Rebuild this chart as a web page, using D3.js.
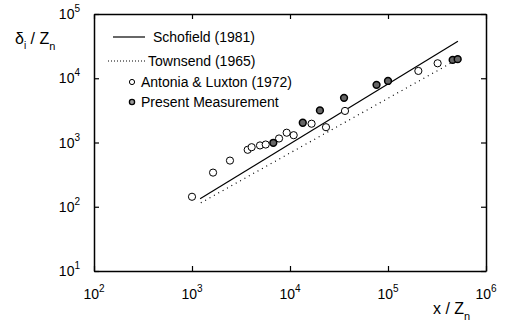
<!DOCTYPE html>
<html>
<head>
<meta charset="utf-8">
<script src="https://cdn.jsdelivr.net/npm/d3@7"></script>
<style>
  body { margin: 0; background: #fff; }
  svg { font-family: "Liberation Sans", Arial, sans-serif; }
</style>
</head>
<body>
<svg id="chart"></svg>
<script>
const width = 507;
const height = 322;

// decade ticks
const xTicks = [1e2, 1e3, 1e4, 1e5, 1e6];
const yTicks = [1e1, 1e2, 1e3, 1e4, 1e5];

// Antonia & Luxton (1972), open circles
const antoniaX = [1000, 1640, 2440, 3700, 4060, 4940, 5650, 7730, 9250, 10900, 16600, 23300, 36400, 204000, 321000];
const antoniaY = [143, 340, 523, 770, 845, 900, 930, 1155, 1420, 1300, 1960, 1730, 3100, 13000, 17100];

// present measurement, grey circles
const presentX = [6760, 13500, 20200, 35600, 76400, 100000, 457000, 514000];
const presentY = [990, 2030, 3160, 4950, 7900, 9080, 19300, 19800];

// correlation lines, end points
const schofieldX = [1210, 517000];
const schofieldY = [133, 37800];
const townsendX = [1230, 517000];
const townsendY = [115, 19800];

const legendItems = ["Schofield (1981)", "Townsend (1965)", "Antonia & Luxton (1972)", "Present Measurement"];

const margin = {top: 14, right: 21, bottom: 51, left: 94};

const svg = d3.select('#chart')
    .attr('width', width)
    .attr('height', height);

const x = d3.scaleLog()
    .domain([1e2, 1e6])
    .range([margin.left, width - margin.right]);

const y = d3.scaleLog()
    .domain([1e1, 1e5])
    .range([height - margin.bottom, margin.top]);

// frame with inward ticks on all four sides
const axes = [
    [d3.axisBottom(x), `translate(0,${height - margin.bottom})`],
    [d3.axisTop(x), `translate(0,${margin.top})`],
    [d3.axisLeft(y), `translate(${margin.left},0)`],
    [d3.axisRight(y), `translate(${width - margin.right},0)`]
];
axes.forEach(([ax, tr]) => {
    const g = svg.append('g')
        .attr('transform', tr)
        .call(ax.tickValues(ax.scale() === x ? xTicks : yTicks).tickSize(-5).tickSizeOuter(0).tickFormat(''));
    g.select('.domain').attr('stroke', '#000').attr('stroke-width', 1.5);
    g.selectAll('.tick line').attr('stroke', '#000').attr('stroke-width', 1.2);
});

// power-of-ten labels
function powLabel(sel) {
    sel.append('tspan').text('10');
    sel.append('tspan')
        .attr('dy', -7)
        .attr('font-size', 10)
        .text(d => Math.round(Math.log10(d)));
}

svg.append('g').selectAll('text')
    .data(xTicks)
    .enter().append('text')
    .attr('x', d => x(d))
    .attr('y', height - margin.bottom + 28)
    .attr('text-anchor', 'middle')
    .attr('font-size', 14)
    .call(powLabel);

svg.append('g').selectAll('text')
    .data(yTicks)
    .enter().append('text')
    .attr('x', margin.left - 14)
    .attr('y', d => y(d) + 5)
    .attr('text-anchor', 'end')
    .attr('font-size', 14)
    .call(powLabel);

// axis titles
const yTitle = svg.append('text')
    .attr('x', 15)
    .attr('y', 44)
    .attr('font-size', 16);
yTitle.append('tspan').text('δ');
yTitle.append('tspan').attr('dy', 5).attr('font-size', 10).text('i');
yTitle.append('tspan').attr('dy', -5).text(' / Z');
yTitle.append('tspan').attr('dy', 6).attr('font-size', 11).text('n');

const xTitle = svg.append('text')
    .attr('x', 433)
    .attr('y', 314)
    .attr('font-size', 16);
xTitle.append('tspan').text('x / Z');
xTitle.append('tspan').attr('dy', 6).attr('font-size', 11).text('n');

// correlation lines
const line = d3.line()
    .x(d => x(d[0]))
    .y(d => y(d[1]));

svg.append('path')
    .datum(d3.zip(schofieldX, schofieldY))
    .attr('d', line)
    .attr('fill', 'none')
    .attr('stroke', '#000')
    .attr('stroke-width', 1.2);

svg.append('path')
    .datum(d3.zip(townsendX, townsendY))
    .attr('d', line)
    .attr('fill', 'none')
    .attr('stroke', '#000')
    .attr('stroke-width', 1.2)
    .attr('stroke-dasharray', '1,4');

// data points
svg.append('g').selectAll('circle')
    .data(d3.zip(antoniaX, antoniaY))
    .enter().append('circle')
    .attr('cx', d => x(d[0]))
    .attr('cy', d => y(d[1]))
    .attr('r', 3.6)
    .attr('fill', '#fff')
    .attr('stroke', '#000')
    .attr('stroke-width', 1);

svg.append('g').selectAll('circle')
    .data(d3.zip(presentX, presentY))
    .enter().append('circle')
    .attr('cx', d => x(d[0]))
    .attr('cy', d => y(d[1]))
    .attr('r', 3.4)
    .attr('fill', '#666')
    .attr('stroke', '#000')
    .attr('stroke-width', 1.5);

// legend
const legY = [37, 61, 82, 102];
const leg = svg.append('g');

leg.append('line')
    .attr('x1', 113).attr('x2', 145)
    .attr('y1', legY[0]).attr('y2', legY[0])
    .attr('stroke', '#000').attr('stroke-width', 1.2);
leg.append('line')
    .attr('x1', 108).attr('x2', 147)
    .attr('y1', legY[1]).attr('y2', legY[1])
    .attr('stroke', '#000').attr('stroke-width', 1)
    .attr('stroke-dasharray', '1,2');
leg.append('circle')
    .attr('cx', 132).attr('cy', legY[2]).attr('r', 2.6)
    .attr('fill', '#fff').attr('stroke', '#000');
leg.append('circle')
    .attr('cx', 132).attr('cy', legY[3]).attr('r', 2.6)
    .attr('fill', '#999').attr('stroke', '#000').attr('stroke-width', 1.3);

leg.selectAll('text')
    .data(legendItems)
    .enter().append('text')
    .attr('x', (d, i) => [153, 148, 141, 141][i])
    .attr('y', (d, i) => legY[i] + 5)
    .attr('font-size', 14)
    .text(d => d);
</script>
</body>
</html>
